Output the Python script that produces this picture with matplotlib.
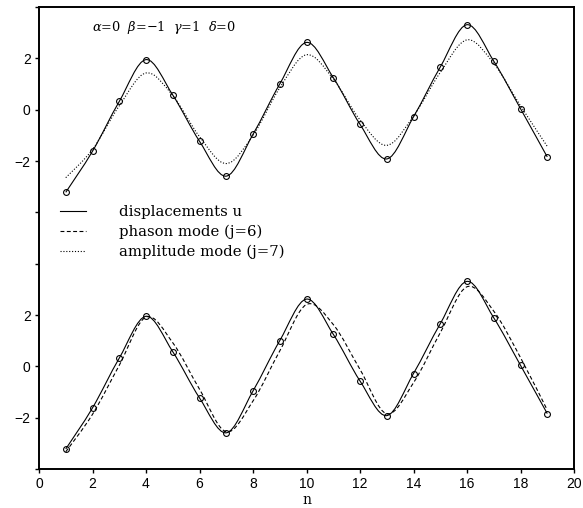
import matplotlib

matplotlib.use("Agg")
import matplotlib.pyplot as plt
import numpy as np
from matplotlib.lines import Line2D
from matplotlib.patches import PathPatch
from matplotlib.path import Path

# values, lattice sites n = 1..19
n = list(range(1, 20))
displacement_u = [-3.22, -1.62, 0.32, 1.95, 0.57, -1.23, -2.59, -0.96, 1.00, 2.62,
                  1.25, -0.57, -1.92, -0.28, 1.66, 3.31, 1.89, 0.04, -1.84]
phason_j6 = [-3.33, -1.87, 0.04, 1.92, 0.92, -0.89, -2.55, -1.35, 0.60, 2.41,
             1.63, -0.12, -1.85, -0.64, 1.31, 3.10, 2.15, 0.34, -1.70]
amplitude_j7 = [-2.65, -1.55, 0.15, 1.43, 0.55, -1.05, -2.10, -1.00, 0.85, 2.14,
                1.20, -0.40, -1.39, -0.25, 1.45, 2.72, 1.80, 0.15, -1.43]

panel_offset = 10  # upper panel is drawn shifted up in the same axes
y_ticks = list(range(-4, 15, 2))
y_tick_labels = ["", "\u22122", "0", "2", "", "", "\u22122", "0", "2", ""]
x_ticks = list(range(0, 21, 2))
legend_labels = ["displacements u", "phason mode (j=6)", "amplitude mode (j=7)"]
params_text = r"$\alpha$=0  $\beta$=$-$1  $\gamma$=1  $\delta$=0"

plt.rcParams["mathtext.fontset"] = "dejavuserif"


def smooth_path(x, y):
    # Catmull-Rom curve through the points, as cubic bezier segments
    pts = np.column_stack([np.asarray(x, float), np.asarray(y, float)])
    ext = np.vstack([pts[0], pts, pts[-1]])
    verts = [pts[0]]
    codes = [Path.MOVETO]
    for i in range(len(pts) - 1):
        p0, p1, p2, p3 = ext[i], ext[i + 1], ext[i + 2], ext[i + 3]
        verts += [p1 + (p2 - p0) / 6, p2 - (p3 - p1) / 6, p2]
        codes += [Path.CURVE4] * 3
    return Path(verts, codes)


def draw_curve(ax, x, y, ls, dashes=None):
    patch = PathPatch(smooth_path(x, y), fill=False, color="black", lw=0.8, ls=ls)
    if dashes is not None:
        patch.set_linestyle((0, dashes))
    ax.add_patch(patch)


fig = plt.figure(figsize=(5.83, 5.08), dpi=100)
ax = fig.add_axes([39 / 583, 1 - 469 / 508, 535 / 583, 462 / 508])

u = np.array(displacement_u)
top = u + panel_offset

# upper panel: displacements and amplitude mode
draw_curve(ax, n, top, "-")
draw_curve(ax, n, np.array(amplitude_j7) + panel_offset, ":", dashes=(1, 1.6))
ax.plot(n, top, "o", ms=4.2, mfc="none", mec="black", mew=0.8)

# lower panel: displacements and phason mode
draw_curve(ax, n, u, "-")
draw_curve(ax, n, phason_j6, "--", dashes=(3.5, 2.2))
ax.plot(n, u, "o", ms=4.2, mfc="none", mec="black", mew=0.8)

ax.set_xlim(0, 20)
ax.set_ylim(-4, 14)
ax.set_xticks(x_ticks)
ax.set_yticks(y_ticks)
ax.set_yticklabels(y_tick_labels)
ax.tick_params(direction="out", length=3, width=1, labelsize=10, pad=3)
for lab in ax.get_xticklabels() + ax.get_yticklabels():
    lab.set_family("Liberation Sans")
for side in ax.spines.values():
    side.set_linewidth(1.4)

ax.set_xlabel("n", family="DejaVu Serif", fontsize=10, labelpad=1)

ax.text(1.98, 13.22, params_text, family="DejaVu Serif", fontsize=9.3, va="center")

handles = [
    Line2D([], [], color="black", lw=0.8),
    Line2D([], [], color="black", lw=0.8, ls=(0, (3.5, 2.2))),
    Line2D([], [], color="black", lw=0.8, ls=(0, (1, 1.6))),
]
ax.legend(handles, legend_labels, loc="upper left", bbox_to_anchor=(60 / 583, 1 - 205 / 508),
          bbox_transform=fig.transFigure, frameon=False, borderpad=0, borderaxespad=0,
          handlelength=1.75, handletextpad=2.2, labelspacing=0.38,
          prop={"family": "DejaVu Serif", "size": 10.7})

fig.savefig("out.png", dpi=100)
